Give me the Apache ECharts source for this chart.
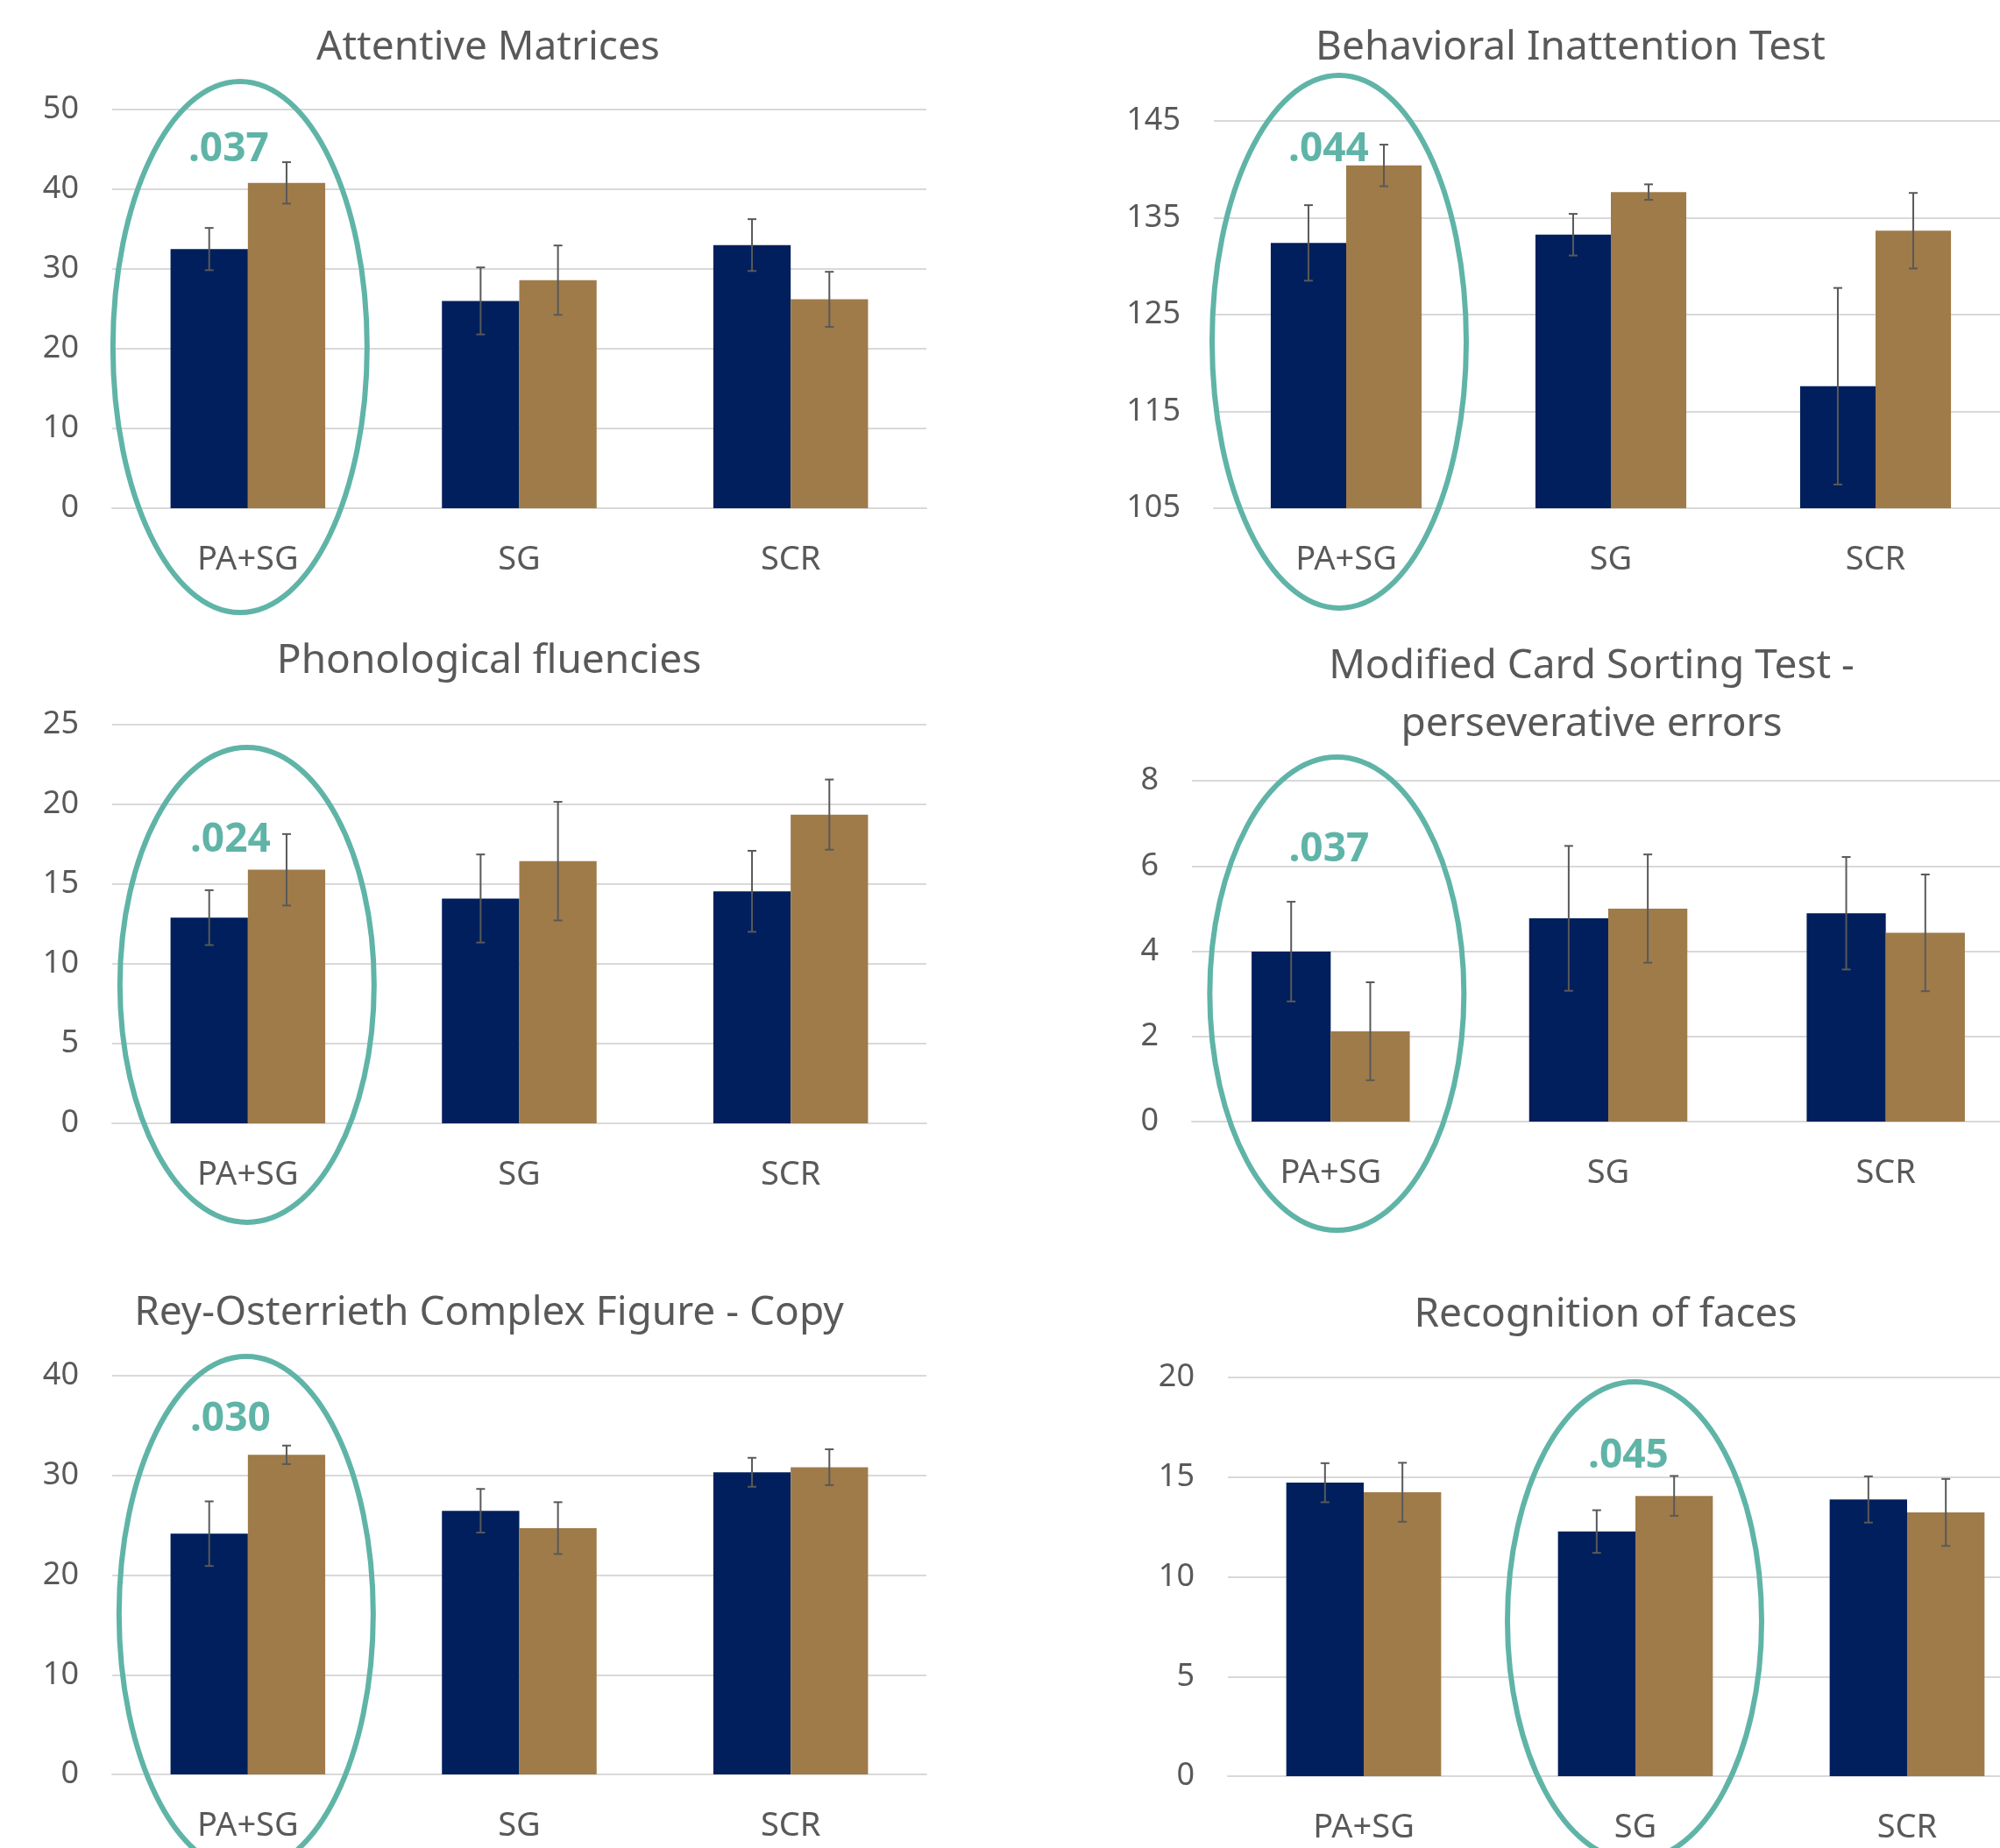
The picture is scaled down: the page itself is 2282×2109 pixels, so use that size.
<!DOCTYPE html>
<html><head><meta charset="utf-8">
<script src="https://cdn.jsdelivr.net/npm/echarts@6/dist/echarts.min.js"></script>
<style>html,body{margin:0;padding:0;background:#fff}#c{width:2282px;height:2109px}</style>
</head><body><div id="c"></div>
<script>
// ---------- DATA ----------
const categories = ['PA+SG', 'SG', 'SCR'];
const chartTitles = [
  'Attentive Matrices',
  'Behavioral Inattention Test',
  'Phonological fluencies',
  'Modified Card Sorting Test -\nperseverative errors',
  'Rey-Osterrieth Complex Figure - Copy',
  'Recognition of faces'
];
// Attentive Matrices
const amNavy = [32.5, 26.0, 33.0];
const amNavyErr = [2.65, 4.2, 3.25];
const amBrown = [40.8, 28.6, 26.2];
const amBrownErr = [2.6, 4.35, 3.45];
// Behavioral Inattention Test
const bitNavy = [132.4, 133.25, 117.6];
const bitNavyErr = [3.9, 2.15, 10.15];
const bitBrown = [140.4, 137.65, 133.66];
const bitBrownErr = [2.15, 0.8, 3.9];
// Phonological fluencies
const pfNavy = [12.9, 14.1, 14.55];
const pfNavyErr = [1.72, 2.76, 2.54];
const pfBrown = [15.9, 16.44, 19.36];
const pfBrownErr = [2.24, 3.72, 2.2];
// Modified Card Sorting Test - perseverative errors
const mcstNavy = [3.99, 4.77, 4.89];
const mcstNavyErr = [1.17, 1.7, 1.32];
const mcstBrown = [2.12, 5.0, 4.43];
const mcstBrownErr = [1.15, 1.27, 1.37];
// Rey-Osterrieth Complex Figure - Copy
const rocfNavy = [24.15, 26.45, 30.31];
const rocfNavyErr = [3.24, 2.19, 1.45];
const rocfBrown = [32.06, 24.71, 30.82];
const rocfBrownErr = [0.93, 2.6, 1.8];
// Recognition of faces
const rofNavy = [14.72, 12.27, 13.88];
const rofNavyErr = [0.98, 1.07, 1.16];
const rofBrown = [14.24, 14.06, 13.23];
const rofBrownErr = [1.48, 1.0, 1.68];
// Axis ranges / ticks
const axisMin = [0, 105, 0, 0, 0, 0];
const axisMax = [50, 145, 25, 8, 40, 20];
const axisStep = [10, 10, 5, 2, 10, 5];
// Significance annotations
const pValues = ['.037', '.044', '.024', '.037', '.030', '.045'];
const pCategory = ['PA+SG', 'PA+SG', 'PA+SG', 'PA+SG', 'PA+SG', 'SG'];

const panelData = [
  [amNavy, amNavyErr, amBrown, amBrownErr],
  [bitNavy, bitNavyErr, bitBrown, bitBrownErr],
  [pfNavy, pfNavyErr, pfBrown, pfBrownErr],
  [mcstNavy, mcstNavyErr, mcstBrown, mcstBrownErr],
  [rocfNavy, rocfNavyErr, rocfBrown, rocfBrownErr],
  [rofNavy, rofNavyErr, rofBrown, rofBrownErr]
];

// ---------- LAYOUT / STYLE ----------
const NAVY = '#001F5C', BROWN = '#9F7B4A', TEAL = '#5FB4A7', TXT = '#595959', GRID = '#D9D9D9';
const FONT = '"Noto Sans", sans-serif';
const grids = [
  {left: 128, top: 125, width: 929, height: 455},
  {left: 1385, top: 138, width: 906, height: 442},
  {left: 128, top: 827, width: 929, height: 455},
  {left: 1360, top: 891, width: 950, height: 389},
  {left: 128, top: 1570, width: 929, height: 455},
  {left: 1401, top: 1572, width: 930, height: 455}
];
const titlePos = [[557, 22], [1792, 22], [558, 722], [1816, 728], [558, 1466], [1832, 1468]];
// annotation geometry: label x offset / y, ellipse x offset, cy, ry
const annot = [
  {ldx: -22, ly: 171, edx: -9, cy: 396, ry: 303},
  {ldx: -20, ly: 171, edx: -8, cy: 390, ry: 304},
  {ldx: -20, ly: 959, edx: -1, cy: 1124, ry: 271},
  {ldx: -2, ly: 970, edx: 7, cy: 1134, ry: 270},
  {ldx: -20, ly: 1620, edx: -2, cy: 1842, ry: 294},
  {ldx: -8, ly: 1662, edx: -1, cy: 1850, ry: 273}
];
const CAT_GAP = 0.43;

const chart = echarts.init(document.getElementById('c'), null, {renderer: 'canvas'});

const xAxes = [], yAxes = [], series = [], titles = [];
grids.forEach((g, i) => {
  xAxes.push({
    type: 'category', gridIndex: i, data: categories,
    axisLine: {lineStyle: {color: GRID, width: 2}}, axisTick: {show: false},
    axisLabel: {color: TXT, fontSize: 38, fontFamily: FONT, margin: 40}
  });
  yAxes.push({
    type: 'value', gridIndex: i, min: axisMin[i], max: axisMax[i], interval: axisStep[i],
    axisLine: {show: false}, axisTick: {show: false},
    splitLine: {lineStyle: {color: GRID, width: 2}},
    axisLabel: {color: TXT, fontSize: 36, fontFamily: FONT, margin: 38}
  });
  const [nv, ne, bv, be] = panelData[i];
  series.push({type: 'bar', xAxisIndex: i, yAxisIndex: i, data: nv, barGap: '0%', barCategoryGap: (CAT_GAP * 100) + '%',
    itemStyle: {color: NAVY}, silent: true, animation: false});
  series.push({type: 'bar', xAxisIndex: i, yAxisIndex: i, data: bv, barGap: '0%', barCategoryGap: (CAT_GAP * 100) + '%',
    itemStyle: {color: BROWN}, silent: true, animation: false});
  const errData = [];
  nv.forEach((v, k) => errData.push([k, v, ne[k], -1]));
  bv.forEach((v, k) => errData.push([k, v, be[k], 1]));
  series.push({
    type: 'custom', xAxisIndex: i, yAxisIndex: i, data: errData, z: 5, silent: true, animation: false,
    encode: {x: 0, y: 1},
    renderItem: function (params, api) {
      const ci = api.value(0), m = api.value(1), e = api.value(2), side = api.value(3);
      const band = api.size([1, 0])[0];
      const barW = band * (1 - CAT_GAP) / 2;
      const x = api.coord([ci, m])[0] + side * barW / 2;
      const yT = api.coord([ci, m + e])[1];
      const yB = api.coord([ci, m - e])[1];
      const st = {stroke: '#595959', lineWidth: 2};
      const c = 5;
      return {type: 'group', children: [
        {type: 'line', shape: {x1: x, y1: yT, x2: x, y2: yB}, style: st},
        {type: 'line', shape: {x1: x - c, y1: yT, x2: x + c, y2: yT}, style: st},
        {type: 'line', shape: {x1: x - c, y1: yB, x2: x + c, y2: yB}, style: st}
      ]};
    }
  });
  titles.push({
    text: chartTitles[i], left: titlePos[i][0], top: titlePos[i][1], textAlign: 'center', padding: 0,
    textStyle: {color: TXT, fontSize: 46, fontWeight: 'normal', fontFamily: FONT, lineHeight: 66}
  });
});

chart.setOption({
  animation: false,
  backgroundColor: '#fff',
  title: titles,
  grid: grids.map(g => Object.assign({containLabel: false, outerBoundsMode: 'none'}, g)),
  xAxis: xAxes, yAxis: yAxes, series: series
});

// annotations (ellipses + p-values) positioned from axis scales
const graphics = [];
annot.forEach((a, i) => {
  const px = chart.convertToPixel({xAxisIndex: i, yAxisIndex: i}, [pCategory[i], axisMin[i]]);
  graphics.push({
    type: 'ellipse', silent: true, z: 10,
    shape: {cx: px[0] + a.edx, cy: a.cy, rx: 145, ry: a.ry},
    style: {fill: 'none', stroke: TEAL, lineWidth: 6}
  });
  graphics.push({
    type: 'text', silent: true, z: 11, x: px[0] + a.ldx, y: a.ly,
    style: {text: pValues[i], fill: TEAL, font: 'bold 46px "Noto Sans"', align: 'center', verticalAlign: 'middle',
      textAlign: 'center', textVerticalAlign: 'middle'}
  });
});
chart.setOption({graphic: graphics});
</script></body></html>
